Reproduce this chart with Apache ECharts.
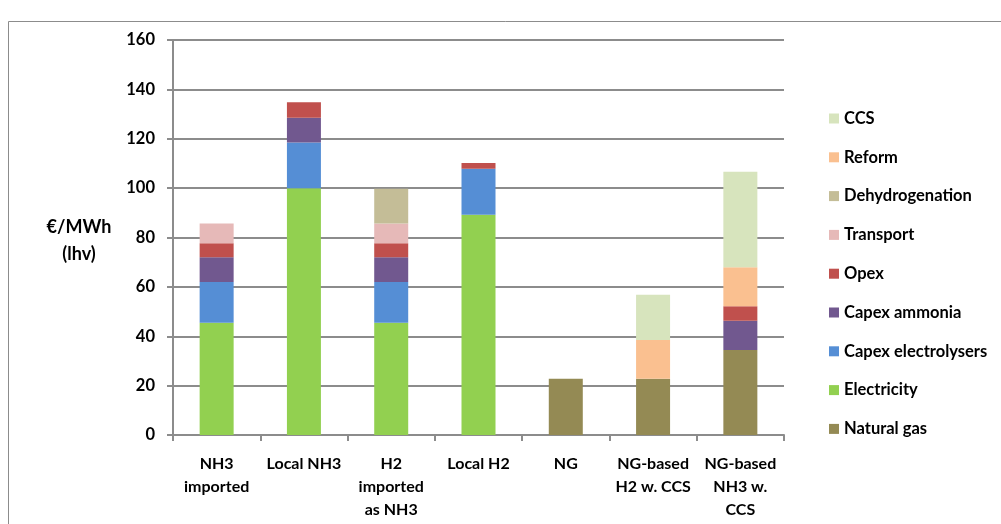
<!DOCTYPE html>
<html>
<head>
<meta charset="utf-8">
<script src="https://cdn.jsdelivr.net/npm/echarts@6/dist/echarts.min.js"></script>
<style>
  html, body { margin: 0; padding: 0; background: #ffffff; }
  #chart { width: 1001px; height: 524px; }
</style>
</head>
<body>
<div id="chart"></div>
<script>
// Cost breakdown of hydrogen / ammonia supply routes (€/MWh, lhv)
const categories = ['NH3\nimported', 'Local NH3', 'H2\nimported\nas NH3', 'Local H2', 'NG', 'NG-based\nH2 w. CCS', 'NG-based\nNH3 w.\nCCS'];

const naturalGas          = ['-',  '-',   '-',  '-',  22.8, 22.8, 34.4];
const electricity         = [45.5, 100,   45.5, 89.2, '-',  '-',  '-'];
const capexElectrolysers  = [16.5, 18.5,  16.5, 18.6, '-',  '-',  '-'];
const capexAmmonia        = [10,   10,    10,   '-',  '-',  '-',  11.9];
const opex                = [5.7,  6.3,   5.7,  2.4,  '-',  '-',  5.9];
const transport           = [8,    '-',   8,    '-',  '-',  '-',  '-'];
const dehydrogenation     = ['-',  '-',   14,   '-',  '-',  '-',  '-'];
const reform              = ['-',  '-',   '-',  '-',  '-',  15.7, 15.7];
const ccs                 = ['-',  '-',   '-',  '-',  '-',  18.3, 38.7];

const yTicks = { min: 0, max: 160, interval: 20 };

const seriesDefs = [
  { name: 'Natural gas',          data: naturalGas,         color: '#948A54' },
  { name: 'Electricity',          data: electricity,        color: '#92D050' },
  { name: 'Capex electrolysers',  data: capexElectrolysers, color: '#558ED5' },
  { name: 'Capex ammonia',        data: capexAmmonia,       color: '#71588F' },
  { name: 'Opex',                 data: opex,               color: '#C0504D' },
  { name: 'Transport',            data: transport,          color: '#E6B9B8' },
  { name: 'Dehydrogenation',      data: dehydrogenation,    color: '#C4BD97' },
  { name: 'Reform',               data: reform,             color: '#FAC090' },
  { name: 'CCS',                  data: ccs,                color: '#D7E4BD' }
];

const FONT = 'Lato';
const chart = echarts.init(document.getElementById('chart'), null, { renderer: 'canvas' });

chart.setOption({
  animation: false,
  backgroundColor: '#ffffff',
  textStyle: { fontFamily: FONT },
  graphic: [
    {
      type: 'rect',
      shape: { x: 8.5, y: 21.5, width: 1100, height: 600 },
      style: { fill: 'none', stroke: '#8c8c8c', lineWidth: 1 },
      silent: true, z: -10
    },
    {
      type: 'text',
      x: 79, y: 227,
      style: {
        text: '€/MWh',
        font: 'bold 18px ' + FONT,
        fill: '#000000',
        align: 'center',
        verticalAlign: 'middle'
      }
    },
    {
      type: 'text',
      x: 79, y: 254,
      style: {
        text: '(lhv)',
        font: 'bold 18px ' + FONT,
        fill: '#000000',
        align: 'center',
        verticalAlign: 'middle'
      }
    }
  ],
  grid: { left: 173, right: 217, top: 40, bottom: 89, containLabel: false },
  legend: {
    orient: 'vertical',
    left: 824,
    top: 105,
    itemWidth: 10,
    itemHeight: 10,
    itemGap: 21.8,
    icon: 'rect',
    textStyle: { fontFamily: FONT, fontWeight: 'bold', fontSize: 16.5, color: '#000000' },
    data: seriesDefs.map(s => s.name).slice().reverse()
  },
  xAxis: {
    type: 'category',
    data: categories,
    axisLine: { lineStyle: { color: '#8c8c8c', width: 2 } },
    axisTick: { show: true, length: 6, alignWithLabel: false, lineStyle: { color: '#8c8c8c', width: 2 } },
    axisLabel: {
      interval: 0,
      margin: 17,
      color: '#000000',
      fontFamily: FONT,
      fontWeight: 'bold',
      fontSize: 16,
      lineHeight: 23
    }
  },
  yAxis: {
    type: 'value',
    min: yTicks.min,
    max: yTicks.max,
    interval: yTicks.interval,
    axisLine: { show: true, lineStyle: { color: '#8c8c8c', width: 2 } },
    axisTick: { show: true, length: 6, lineStyle: { color: '#8c8c8c', width: 2 } },
    splitLine: { show: true, lineStyle: { color: '#8c8c8c', width: 2 } },
    axisLabel: {
      margin: 18,
      color: '#000000',
      fontFamily: FONT,
      fontWeight: 'bold',
      fontSize: 16.5
    }
  },
  series: seriesDefs.map(s => ({
    name: s.name,
    type: 'bar',
    stack: 'cost',
    barWidth: 34,
    data: s.data,
    itemStyle: { color: s.color },
    emphasis: { disabled: true }
  }))
});
</script>
</body>
</html>
